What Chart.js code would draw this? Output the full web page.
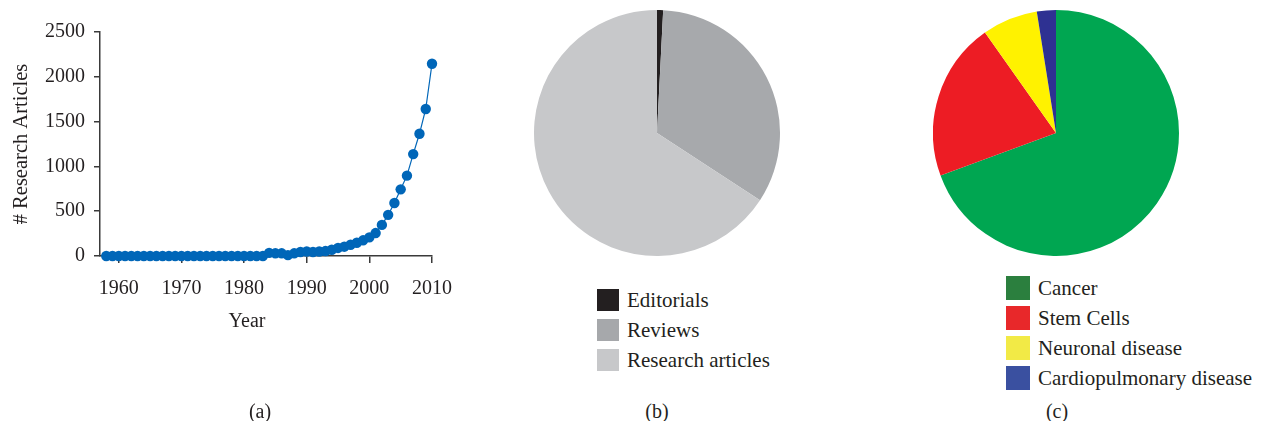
<!DOCTYPE html>
<html>
<head>
<meta charset="utf-8">
<script src="https://cdn.jsdelivr.net/npm/chart.js@4.4.1/dist/chart.umd.min.js"></script>
<style>
  html, body { margin:0; padding:0; background:#fff; }
  body { width:1261px; height:421px; position:relative; overflow:hidden; font-family:"Liberation Serif","Times New Roman",serif; color:#231f20; }
  .box { position:absolute; }
  .legend { position:absolute; font-size:21px; }
  .legend .row { position:absolute; left:0; white-space:nowrap; }
  .legend .sw { position:absolute; left:0; top:0; }
  .legend .tx { position:absolute; top:50%; transform:translateY(-50%); line-height:1; }
  .cap { position:absolute; font-size:20px; transform:translate(-50%,-50%); white-space:nowrap; }
</style>
</head>
<body>
<div class="box" style="left:0;top:0;width:460px;height:340px;"><canvas id="ca"></canvas></div>
<div class="box" style="left:534px;top:10px;width:246px;height:246px;"><canvas id="cb"></canvas></div>
<div class="box" style="left:933px;top:10px;width:246px;height:246px;"><canvas id="cc"></canvas></div>
<div id="legB" class="legend" style="left:597px;top:289px;"></div>
<div id="legC" class="legend" style="left:1006px;top:276px;"></div>
<div class="cap" style="left:247px;top:320px;">Year</div>
<div class="cap" style="left:260px;top:411px;">(a)</div>
<div class="cap" style="left:657px;top:411px;">(b)</div>
<div class="cap" style="left:1057px;top:411px;">(c)</div>
<script>
// ---- Data ----
const years = [1958,1959,1960,1961,1962,1963,1964,1965,1966,1967,1968,1969,1970,1971,1972,1973,1974,1975,1976,1977,1978,1979,1980,1981,1982,1983,
  1984,1985,1986,1987,1988,1989,1990,1991,1992,1993,1994,1995,1996,1997,1998,1999,2000,2001,2002,2003,2004,2005,2006,2007,2008,2009,2010];
const articles = [0,0,0,0,0,0,0,0,0,0,0,0,0,0,0,0,0,0,0,0,0,0,0,0,0,0,
  35,30,30,10,30,45,50,45,50,55,70,90,104,125,148,175,208,256,347,459,591,744,897,1137,1364,1641,2146];
const xTicks = [1960,1970,1980,1990,2000,2010];
const yTicks = [0,500,1000,1500,2000,2500];

const typeLabels = ["Editorials","Reviews","Research articles"];
const typeValues = [0.8,33.4,65.8];
const typeColors = ["#231f20","#a7a9ac","#c7c8ca"];
const typeLegendColors = ["#231f20","#a6a8ab","#c7c8ca"];

const areaLabels = ["Cancer","Stem Cells","Neuronal disease","Cardiopulmonary disease"];
const areaValues = [69.4,20.8,7.3,2.5];
const areaColors = ["#00a651","#ed1c24","#fff200","#2e3192"];
const areaLegendColors = ["#2b7f3e","#e8282a","#f2ea46","#3a50a0"];

// ---- Common ----
Chart.defaults.font.family = '"Liberation Serif","Times New Roman",serif';
Chart.defaults.color = '#231f20';
Chart.defaults.animation = false;
Chart.defaults.responsive = true;
Chart.defaults.maintainAspectRatio = false;

const axisColor = '#3a3a3a';

// ---- (a) line chart ----
new Chart(document.getElementById('ca'), {
  type: 'line',
  data: {
    datasets: [{
      data: years.map((y,i)=>({x:y, y:articles[i]})),
      borderColor: '#0066b8',
      borderWidth: 1.2,
      backgroundColor: '#0066b8',
      pointBackgroundColor: '#0066b8',
      pointBorderWidth: 0,
      pointRadius: 5.2,
      tension: 0,
      clip: false
    }]
  },
  options: {
    layout: { padding: { left: 0, top: 32, right: 28, bottom: 0 } },
    plugins: { legend: { display: false }, tooltip: { enabled: false } },
    scales: {
      x: {
        type: 'linear', min: 1957, max: 2010,
        afterBuildTicks: s => { s.ticks = xTicks.map(v => ({value: v})); },
        afterFit: s => { s.height = 84; s.paddingLeft = 0; s.paddingRight = 0; },
        grid: { drawOnChartArea: false, drawTicks: true, tickLength: 7, color: axisColor, lineWidth: 1.5 },
        border: { display: true, color: axisColor, width: 1.5 },
        ticks: { font: { size: 20 }, padding: 14, maxRotation: 0, color: '#231f20', callback: v => String(v) },
        title: { display: false }
      },
      y: {
        type: 'linear', min: 0, max: 2500,
        afterBuildTicks: s => { s.ticks = yTicks.map(v => ({value: v})); },
        afterFit: s => { s.width = 100; s.paddingTop = 0; s.paddingBottom = 0; },
        grid: { drawOnChartArea: false, drawTicks: true, tickLength: 6, color: axisColor, lineWidth: 1.5 },
        border: { display: true, color: axisColor, width: 1.5 },
        ticks: { font: { size: 20 }, padding: 9, color: '#231f20', callback: v => String(v) },
        title: { display: true, text: '# Research Articles', font: { size: 20.5 }, padding: { top: 9, bottom: 4 }, color: '#231f20' }
      }
    }
  }
});

// ---- pies ----
function pie(id, labels, values, colors) {
  return new Chart(document.getElementById(id), {
    type: 'pie',
    data: { labels: labels, datasets: [{ data: values, backgroundColor: colors, borderWidth: 0 }] },
    options: {
      layout: { padding: 0 },
      plugins: { legend: { display: false }, tooltip: { enabled: false } }
    }
  });
}
pie('cb', typeLabels, typeValues, typeColors);
pie('cc', areaLabels, areaValues, areaColors);

// ---- legends ----
function legend(el, labels, colors, box, step) {
  labels.forEach((l,i) => {
    const r = document.createElement('div');
    r.className = 'row';
    r.style.top = (i*step) + 'px';
    r.style.height = box + 'px';
    const sw = document.createElement('div');
    sw.className = 'sw';
    sw.style.width = box + 'px'; sw.style.height = box + 'px';
    sw.style.background = colors[i];
    const tx = document.createElement('div');
    tx.className = 'tx';
    tx.style.left = (box + 8) + 'px';
    tx.textContent = l;
    r.appendChild(sw); r.appendChild(tx);
    el.appendChild(r);
  });
}
legend(document.getElementById('legB'), typeLabels, typeLegendColors, 22, 30);
legend(document.getElementById('legC'), areaLabels, areaLegendColors, 24, 30);
</script>
</body>
</html>
